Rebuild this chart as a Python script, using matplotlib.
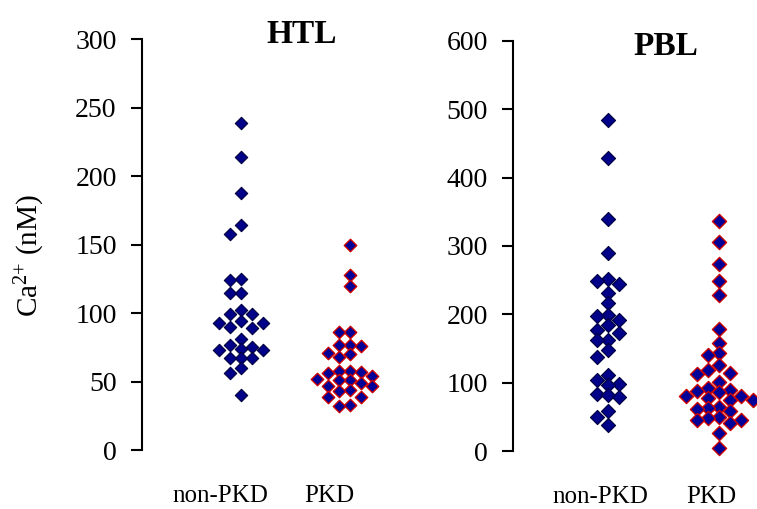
import numpy as np
import matplotlib
matplotlib.use("Agg")
import matplotlib.pyplot as plt

plt.rcParams['font.family'] = ['Liberation Serif', 'DejaVu Serif']
plt.rcParams['mathtext.fontset'] = 'custom'
plt.rcParams['mathtext.rm'] = 'Liberation Serif'
plt.rcParams['mathtext.it'] = 'Liberation Serif:italic'

# data (Ca2+ in nM)
groups = ['non-PKD', 'PKD']

htl_non_pkd = [239, 214, 188, 164, 158, 125, 124, 115, 115, 102, 99, 99, 94, 93, 93,
               90, 89, 81, 77, 75, 74, 73, 73, 67, 67, 67, 60, 56, 40]
htl_pkd = [150, 128, 120, 86, 86, 77, 77, 76, 71, 70, 68, 58, 58, 57, 56, 54, 52,
           51, 51, 49, 47, 47, 44, 43, 39, 39, 33, 32]

pbl_non_pkd = [484, 429, 340, 289, 251, 248, 244, 231, 216, 199, 197, 192, 184, 177,
               173, 162, 162, 148, 138, 111, 104, 98, 97, 84, 82, 79, 58, 50, 38]
pbl_pkd = [337, 306, 274, 248, 228, 178, 158, 144, 140, 126, 119, 114, 113, 101, 92,
           89, 88, 87, 80, 80, 78, 75, 75, 64, 63, 62, 59, 50, 48, 46, 46, 41, 26, 5]

htl_ticks = [0, 50, 100, 150, 200, 250, 300]
pbl_ticks = [0, 100, 200, 300, 400, 500, 600]


def swarm(vals, step, thresh):
    # simple greedy dot-plot layout: put each point in the nearest free column
    placed = []
    offs = []
    for v in vals:
        col = 0
        for cand in [0, -1, 1, -2, 2, -3, 3, 4, -4]:
            if all(po != cand or abs(v - pv) >= thresh for pv, po in placed):
                col = cand
                break
        placed.append((v, col))
        offs.append(col * step)
    return np.array(offs)


def draw_panel(ax, non_pkd, pkd, ticks, title, title_xy, label_shift, size, thresh):
    ax.scatter(0 + swarm(non_pkd, 0.1, thresh), non_pkd, marker='D', s=size,
               facecolor='#000088', edgecolor='#000040', linewidth=0.8, clip_on=False, zorder=3)
    ax.scatter(1 + swarm(pkd, 0.1, thresh), pkd, marker='D', s=size,
               facecolor='#000099', edgecolor='#cc0000', linewidth=1.0, clip_on=False, zorder=3)
    ax.set_ylim(ticks[0], ticks[-1])
    ax.set_yticks(ticks)
    ax.tick_params(axis='y', direction='out', length=8, width=1.5, pad=10, labelsize=20)
    ax.set_xticks([0 - label_shift, 1 - label_shift])
    ax.set_xticklabels(groups)
    ax.tick_params(axis='x', length=0, pad=25, labelsize=18)
    for side in ['top', 'right', 'bottom']:
        ax.spines[side].set_visible(False)
    ax.spines['left'].set_linewidth(1.5)
    ax.text(title_xy[0], title_xy[1], title, transform=ax.transAxes, ha='center',
            va='baseline', fontsize=24, fontweight='bold')


fig = plt.figure(figsize=(7.57, 5.09), dpi=100)

ax1 = fig.add_axes([0.1872, 0.1159, 0.4046, 0.8069])
ax1.set_xlim(-0.91, 1.9)
draw_panel(ax1, htl_non_pkd, htl_pkd, htl_ticks, 'HTL', (0.523, 0.99), 0.19, 40, 7)

ax2 = fig.add_axes([0.6777, 0.1139, 0.3223, 0.806])
ax2.set_xlim(-0.856, 1.34)
draw_panel(ax2, pbl_non_pkd, pbl_pkd, pbl_ticks, 'PBL', (0.627, 0.965), 0.07, 52, 14)

fig.text(30 / 757, 1 - 256 / 509, 'Ca$^{2{+}}$ (nM)', rotation=90, ha='center',
         va='center', fontsize=21)

fig.savefig('out.png', dpi=100)
